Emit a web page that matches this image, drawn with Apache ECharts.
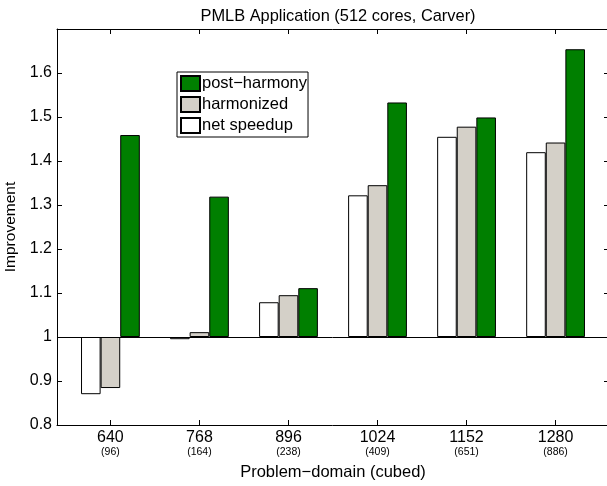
<!DOCTYPE html>
<html>
<head>
<meta charset="utf-8">
<script src="https://cdn.jsdelivr.net/npm/echarts@6/dist/echarts.min.js"></script>
<style>
  html, body { margin: 0; padding: 0; background: #fff; }
  #chart { width: 607px; height: 486px; }
</style>
</head>
<body>
<div id="chart"></div>
<script>
// problem sizes and the (cores) count printed under each one
const sizes = ['640', '768', '896', '1024', '1152', '1280'];
const subLabels = ['(96)', '(164)', '(238)', '(409)', '(651)', '(886)'];
const netSpeedup = [0.870, 0.995, 1.079, 1.322, 1.455, 1.420];
const harmonized = [0.884, 1.011, 1.095, 1.345, 1.478, 1.442];
const postHarmony = [1.459, 1.319, 1.111, 1.533, 1.499, 1.654];
const baseline = 1;

const positions = sizes.map((s, i) => i + 1);
const font = 'Liberation Sans, Arial, Helvetica, sans-serif';

// bars hang from the baseline (1), so plot value - 1 and relabel the axis
const toBars = arr => arr.map((v, i) => [positions[i], +(v - baseline).toFixed(4)]);

const myChart = echarts.init(document.getElementById('chart'));

const barSeries = (name, data, color) => ({
    name: name,
    type: 'bar',
    data: toBars(data),
    barWidth: 19.6,
    barGap: '0%',
    itemStyle: { color: color, borderColor: '#000', borderWidth: 1 }
});

const option = {
    animation: false,
    backgroundColor: '#fff',
    textStyle: { fontFamily: font },
    title: {
        text: 'PMLB Application (512 cores, Carver)',
        left: 333,
        top: 3,
        textAlign: 'center',
        textStyle: { fontSize: 16.4, fontWeight: 'normal', color: '#000', fontFamily: font }
    },
    legend: {
        orient: 'vertical',
        left: 177,
        top: 72,
        data: ['post−harmony', 'harmonized', 'net speedup'],
        icon: 'rect',
        itemWidth: 19,
        itemHeight: 15,
        itemGap: 4,
        padding: [3, 1, 3, 3],
        borderColor: '#000',
        borderWidth: 1,
        backgroundColor: '#fff',
        textStyle: { fontSize: 16.5, lineHeight: 17, color: '#000', fontFamily: font, padding: [0, 0, 0, -3] }
    },
    grid: { left: 57, top: 29, width: 552, height: 396, outerBoundsMode: 'none', containLabel: false },
    xAxis: [
        {
            type: 'value',
            min: 0.4,
            max: 6.6,
            position: 'bottom',
            name: 'Problem−domain (cubed)',
            nameLocation: 'middle',
            nameGap: 39,
            nameTextStyle: { fontSize: 16.5, color: '#000', fontFamily: font },
            splitLine: { show: false },
            axisLine: { onZero: false, lineStyle: { color: '#000', width: 1 } },
            axisTick: { inside: true, length: 5, customValues: positions, lineStyle: { color: '#000' } },
            axisLabel: {
                customValues: positions,
                margin: 4,
                formatter: v => {
                    const i = Math.round(v) - 1;
                    return '{a|' + sizes[i] + '}\n{b|' + subLabels[i] + '}';
                },
                rich: {
                    a: { fontSize: 16, lineHeight: 17, color: '#000', fontFamily: font },
                    b: { fontSize: 10.5, lineHeight: 12, color: '#000', fontFamily: font }
                }
            }
        },
        {
            type: 'value',
            min: 0.4,
            max: 6.6,
            position: 'top',
            splitLine: { show: false },
            axisLine: { onZero: false, lineStyle: { color: '#000', width: 1 } },
            axisTick: { inside: true, length: 5, customValues: positions, lineStyle: { color: '#000' } },
            axisLabel: { show: false }
        }
    ],
    yAxis: [
        {
            type: 'value',
            min: -0.2,
            max: 0.7,
            interval: 0.1,
            position: 'left',
            name: 'Improvement',
            nameLocation: 'middle',
            nameGap: 32,
            nameTextStyle: { fontSize: 15.5, color: '#000', fontFamily: font },
            splitLine: { show: false },
            axisLine: { show: true, onZero: false, lineStyle: { color: '#000', width: 1 } },
            axisTick: { inside: true, length: 5, lineStyle: { color: '#000' } },
            axisLabel: {
                margin: 5,
                fontSize: 16,
                color: '#000',
                showMaxLabel: false,
                formatter: v => String(+(v + baseline).toFixed(1))
            }
        },
        {
            type: 'value',
            min: -0.2,
            max: 0.7,
            interval: 0.1,
            position: 'right',
            splitLine: { show: false },
            axisLine: { show: true, onZero: false, lineStyle: { color: '#000', width: 1 } },
            axisTick: { inside: true, length: 5, lineStyle: { color: '#000' } },
            axisLabel: { show: false }
        }
    ],
    series: [
        Object.assign(barSeries('net speedup', netSpeedup, '#ffffff'), {
            markLine: {
                silent: true,
                symbol: 'none',
                label: { show: false },
                lineStyle: { color: '#000', width: 1, type: 'solid' },
                data: [{ yAxis: 0 }]
            }
        }),
        barSeries('harmonized', harmonized, '#d4d0c8'),
        barSeries('post−harmony', postHarmony, '#007f00')
    ]
};

option && myChart.setOption(option);
</script>
</body>
</html>
